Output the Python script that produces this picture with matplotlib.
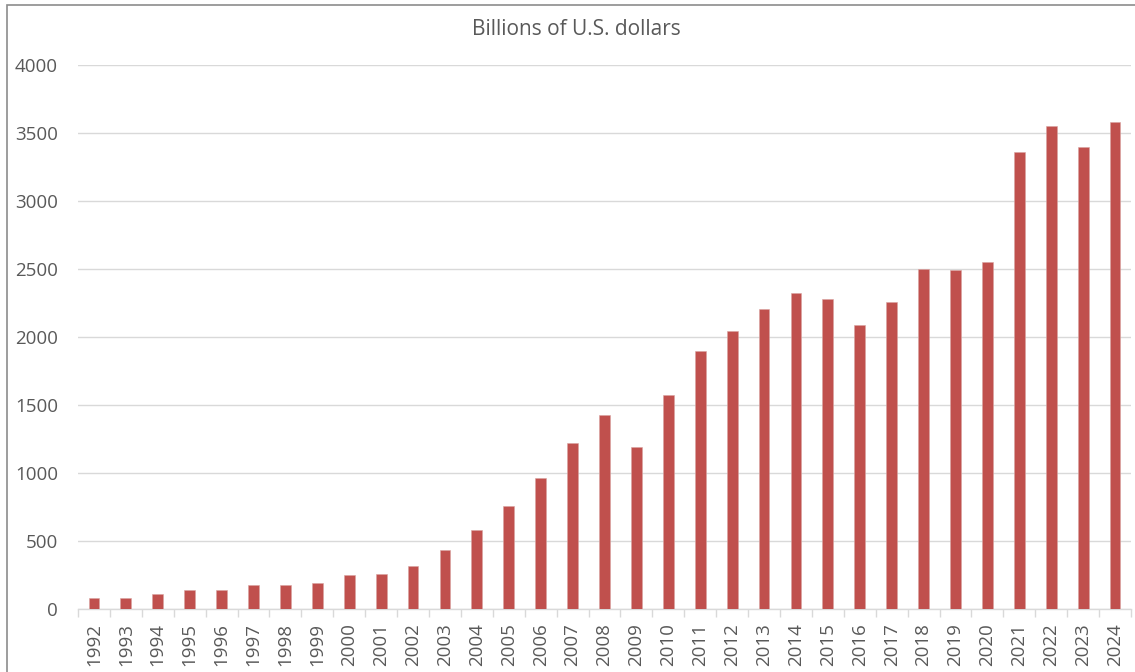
import matplotlib
matplotlib.use("Agg")
import matplotlib.pyplot as plt
from matplotlib.patches import Rectangle
import numpy as np

years = [str(y) for y in range(1992, 2025)]
values = [80, 80, 110, 142, 142, 181, 181, 191, 250, 260, 318, 436, 583, 759, 965,
          1220, 1426, 1191, 1573, 1897, 2046, 2208, 2328, 2279, 2090, 2260, 2502,
          2495, 2554, 3357, 3554, 3397, 3583]
yticks = [0, 500, 1000, 1500, 2000, 2500, 3000, 3500, 4000]
title = "Billions of U.S. dollars"

W, H = 1135, 672
plt.rcParams['font.family'] = ['Open Sans', 'DejaVu Sans']
fig = plt.figure(figsize=(W / 100, H / 100), dpi=100)

# chart frame (left and top edges visible)
fig.patches.append(Rectangle((7 / W, -0.1), 1.2, (H - 5) / H + 0.1,
                             transform=fig.transFigure, fill=False,
                             edgecolor='#8c8c8c', linewidth=1.2))

left, right = 78 / W, 1131 / W
bottom, top = (H - 609.3) / H, (H - 65) / H
ax = fig.add_axes([left, bottom, right - left, top - bottom])

x = np.arange(len(years))
ax.bar(x, values, width=0.34, color='#C0504D', edgecolor='#d9a3a1', linewidth=0.4, zorder=3)

ax.set_xlim(-0.5, len(years) - 0.5)
ax.set_ylim(0, 4000)
ax.set_yticks(yticks)
ax.set_yticklabels([str(v) for v in yticks], fontsize=13.5, color='#595959')
ax.tick_params(axis='y', length=0, pad=14.5)

ax.set_xticks(x)
ax.set_xticklabels(years, rotation=90, fontsize=13.5, color='#595959')
ax.tick_params(axis='x', which='major', length=0, pad=10)
ax.set_xticks(np.arange(-0.5, len(years) + 0.5, 1), minor=True)
ax.tick_params(axis='x', which='minor', length=6, color='#d9d9d9', width=1)

ax.grid(axis='y', color='#d9d9d9', linewidth=1, zorder=0)
for s in ['top', 'right', 'left']:
    ax.spines[s].set_visible(False)
ax.spines['bottom'].set_color('#d9d9d9')
ax.spines['bottom'].set_linewidth(1)
ax.set_axisbelow(True)

fig.text(576 / W, 1 - 29.5 / H, title, ha='center', va='center', fontsize=15, color='#595959')

fig.savefig("out.png", dpi=100)
